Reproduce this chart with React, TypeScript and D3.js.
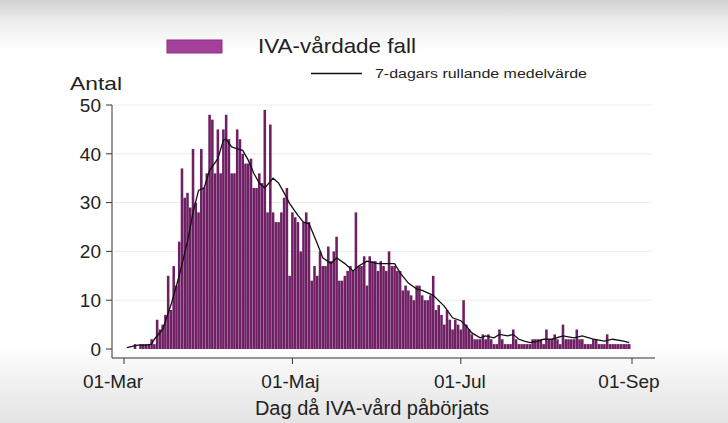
import React from 'react';
import * as d3 from 'd3';

// Daily ICU admissions, 1 Mar - 31 Aug
const startDate = new Date(2020, 2, 1);
const endDate = new Date(2020, 8, 1);
const dailyCases = [
  0, 0, 0, 0, 1, 0, 1, 1, 1, 1,
  2, 1, 6, 4, 5, 7, 15, 8, 17, 13,
  22, 37, 31, 32, 29, 41, 30, 28, 41, 33,
  36, 48, 47, 36, 45, 36, 45, 48, 43, 36,
  36, 45, 43, 40, 38, 38, 39, 33, 33, 36,
  34, 49, 28, 46, 28, 26, 26, 28, 31, 33,
  15, 28, 27, 26, 20, 26, 28, 26, 14, 17,
  15, 20, 17, 17, 21, 18, 20, 23, 14, 14,
  15, 16, 17, 16, 28, 17, 17, 19, 13, 19,
  18, 18, 16, 18, 17, 16, 20, 17, 17, 16,
  16, 12, 13, 12, 11, 10, 13, 13, 11, 10,
  10, 11, 15, 8, 9, 7, 5, 8, 6, 4,
  6, 5, 4, 10, 5, 4, 3, 2, 2, 2,
  3, 2, 3, 2, 1, 1, 4, 2, 1, 1,
  1, 4, 2, 1, 1, 1, 1, 1, 2, 2,
  2, 2, 1, 4, 2, 2, 3, 2, 1, 5,
  2, 2, 2, 2, 4, 2, 2, 1, 1, 1,
  2, 2, 1, 1, 1, 3, 1, 1, 1, 1,
  1, 1, 1, 1,
];

// 7-day rolling mean (day offset from 1 Mar)
const avgDays = [
  1, 5, 8, 10, 11, 14, 17, 20, 23, 25, 27, 29, 31, 34, 36, 37, 39, 41, 43, 45,
  47, 49, 51, 54, 56, 58, 60, 63, 65, 67, 70, 72, 75, 77, 80, 83, 85, 88, 92, 95,
  98, 100, 103, 106, 108, 112, 116, 119, 122, 124, 126, 129, 131, 134, 136, 139,
  141, 143, 145, 147, 150, 152, 155, 159, 163, 166, 170, 174, 177, 181, 183,
];
const avgValues = [
  0.3, 0.8, 0.8, 1, 2, 4, 9, 15, 22, 28, 32.5, 33, 36.6, 39, 42.8, 43, 41.4, 41, 40.7, 38.7,
  36, 34, 33, 35, 34, 32, 29.8, 27.4, 26, 25.7, 21.6, 18.7, 17.5, 18.7, 17.5, 16, 17, 18, 17.5, 17.5,
  17.5, 15.6, 13.5, 12.3, 12, 11, 8.8, 6.4, 5.8, 4.7, 3.3, 2.3, 2.7, 2.3, 3, 2.7,
  3, 2, 1.6, 1.3, 1.6, 2, 2, 2.7, 2.3, 2.7, 2, 1.6, 2, 1.6, 1.3,
];

const yTicks = [0, 10, 20, 30, 40, 50];
const xTickDates = [new Date(2020, 2, 1), new Date(2020, 4, 1), new Date(2020, 6, 1), new Date(2020, 8, 1)];
const xTickLabels = ['01-Mar', '01-Maj', '01-Jul', '01-Sep'];
const xLabelNudge = [-11, -2, -1, -3];

const width = 728;
const height = 423;
const font = '"Liberation Sans", Arial, sans-serif';

export default function App() {
  const x = d3.scaleTime().domain([startDate, endDate]).range([124, 632]);
  const y = d3.scaleLinear().domain([0, 50]).range([349, 105]);

  const dayWidth = x(d3.timeDay.offset(startDate, 1)) - x(startDate);
  const barW = dayWidth * 0.93;

  const avgLine = d3.line<number>()
    .x((d, i) => x(d3.timeDay.offset(startDate, avgDays[i])))
    .y((d) => y(d));

  return (
    <svg width={width} height={height} style={{ position: 'absolute', left: 0, top: 0 }}>
      <defs>
        <linearGradient id="bg" x1="0" y1="0" x2="0" y2="1">
          <stop offset="0" stopColor="#d2d2d2" />
          <stop offset="0.05" stopColor="#ededed" />
          <stop offset="0.12" stopColor="#ffffff" />
          <stop offset="0.82" stopColor="#ffffff" />
          <stop offset="0.9" stopColor="#f1f1f1" />
          <stop offset="1" stopColor="#e4e4e4" />
        </linearGradient>
      </defs>
      <rect width={width} height={height} fill="url(#bg)" />

      {/* gridlines */}
      {yTicks.slice(1).map((t) => (
        <line key={t} x1={114} x2={652} y1={y(t)} y2={y(t)} stroke="#ececec" strokeWidth={1} />
      ))}

      {/* bars */}
      {dailyCases.map((v, i) => {
        const cx = x(d3.timeDay.offset(startDate, i));
        return (
          <rect key={i} x={cx - barW / 2} y={y(v)} width={barW} height={y(0) - y(v)} fill="#6f2064" />
        );
      })}

      {/* rolling mean */}
      <path d={avgLine(avgValues) || ''} fill="none" stroke="#111" strokeWidth={1.3} />

      {/* y axis */}
      <line x1={112} x2={112} y1={y(50)} y2={358} stroke="#333" strokeWidth={1} />
      {yTicks.map((t) => (
        <g key={t}>
          <line x1={106} x2={112} y1={y(t)} y2={y(t)} stroke="#333" />
          <text x={101} y={y(t)} dy="0.36em" textAnchor="end" fontFamily={font} fontSize={19} fill="#222">
            {t}
          </text>
        </g>
      ))}
      <text x={70} y={90} fontFamily={font} fontSize={19} textLength={52} lengthAdjust="spacingAndGlyphs" fill="#222">Antal</text>

      {/* x axis */}
      <line x1={112} x2={655} y1={358} y2={358} stroke="#333" strokeWidth={1} />
      {xTickDates.map((d, i) => (
        <g key={i}>
          <line x1={x(d)} x2={x(d)} y1={358} y2={364} stroke="#333" />
          <text x={x(d) + xLabelNudge[i]} y={388} textAnchor="middle" fontFamily={font} fontSize={19} fill="#222">
            {xTickLabels[i]}
          </text>
        </g>
      ))}
      <text x={372} y={415} textAnchor="middle" fontFamily={font} fontSize={20} fill="#222">
        Dag då IVA-vård påbörjats
      </text>

      {/* legend */}
      <rect x={167} y={40} width={55} height={13} fill="#a3409a" stroke="#8a2e82" strokeWidth={1} />
      <text x={258} y={53} fontFamily={font} fontSize={21} textLength={158} lengthAdjust="spacingAndGlyphs" fill="#222">IVA-vårdade fall</text>
      <line x1={311} x2={362} y1={73.5} y2={73.5} stroke="#111" strokeWidth={1.3} />
      <text x={375} y={78} fontFamily={font} fontSize={12.5} textLength={212} lengthAdjust="spacingAndGlyphs" fill="#222">7-dagars rullande medelvärde</text>
    </svg>
  );
}
